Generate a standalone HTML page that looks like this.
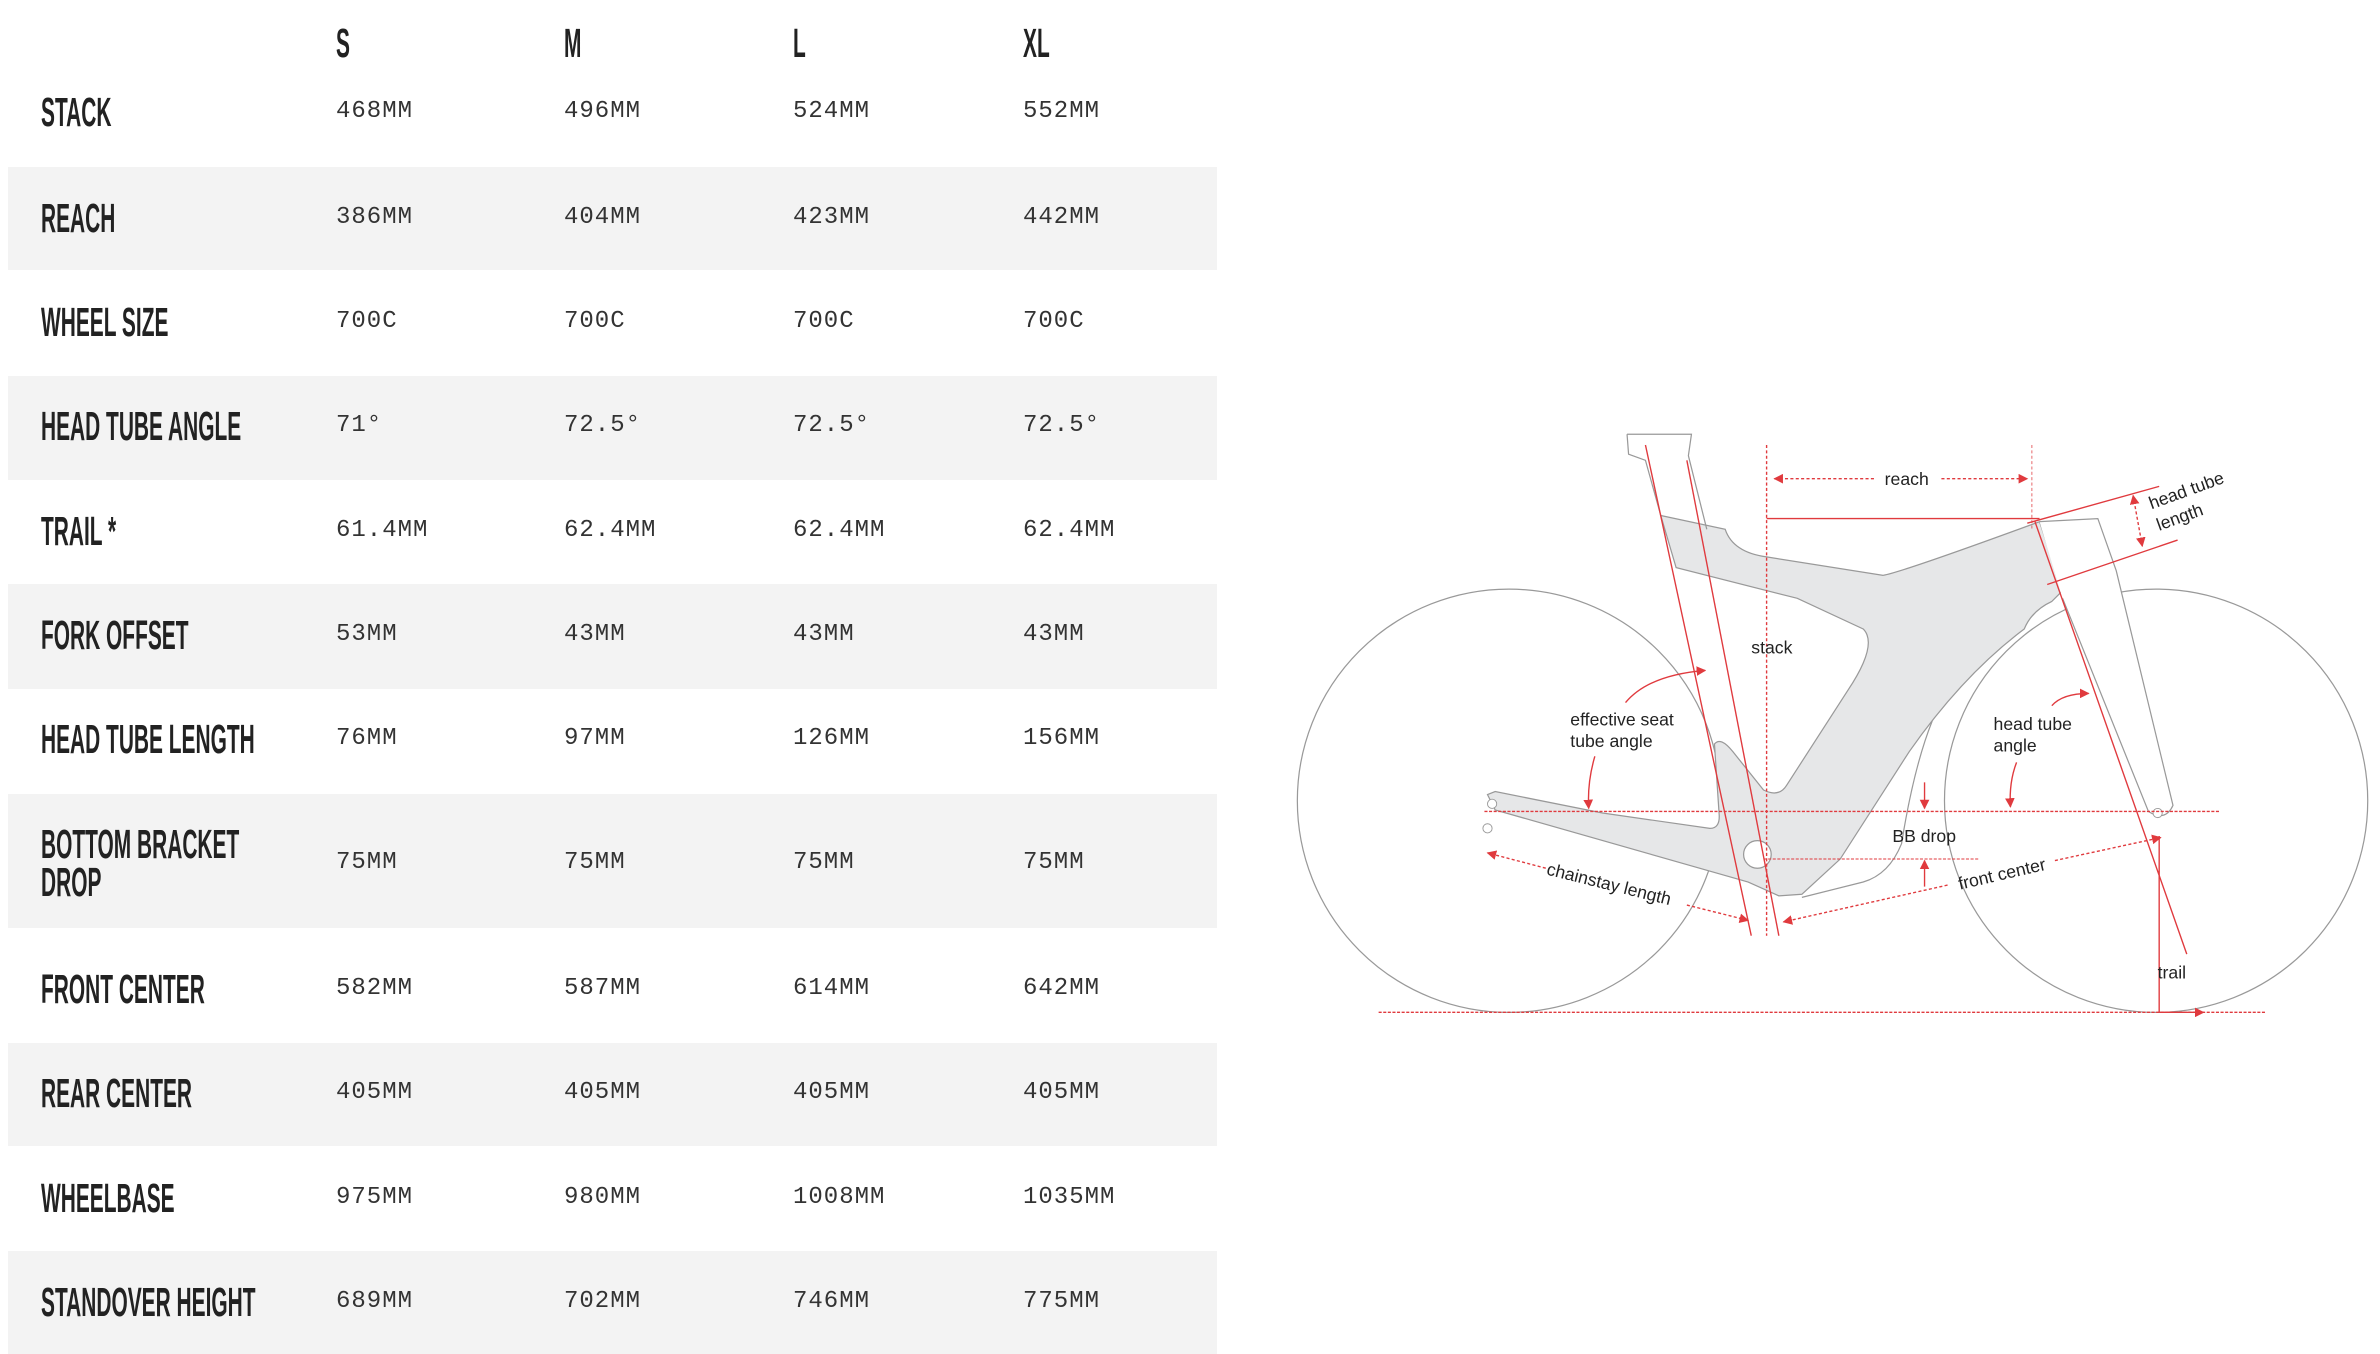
<!DOCTYPE html>
<html><head><meta charset="utf-8"><style>
body{margin:0;width:2380px;height:1350px;background:#fff;position:relative;overflow:hidden;font-family:"Liberation Sans",sans-serif}
.g{position:absolute;left:8px;width:1209px;background:#f3f3f3}
.l{position:absolute;left:41px;font-family:"Liberation Sans Narrow","Liberation Sans",sans-serif;font-weight:bold;font-size:41px;line-height:38px;color:#222;transform:scaleX(0.51);transform-origin:left center;white-space:nowrap}
.v{position:absolute;font-family:"Liberation Mono",monospace;font-size:24px;letter-spacing:1px;line-height:30px;color:#333;white-space:nowrap}
.h{position:absolute;font-family:"Liberation Sans Narrow","Liberation Sans",sans-serif;font-weight:bold;font-size:41px;line-height:40px;color:#222;transform:scaleX(0.51);transform-origin:left center}
svg{position:absolute;left:0;top:0}
</style></head><body>
<div class="g" style="top:167px;height:103px"></div>
<div class="g" style="top:376px;height:104px"></div>
<div class="g" style="top:584px;height:105px"></div>
<div class="g" style="top:794px;height:134px"></div>
<div class="g" style="top:1043px;height:103px"></div>
<div class="g" style="top:1251px;height:103px"></div>

<div class="h" style="left:336px;top:23px">S</div>
<div class="h" style="left:564px;top:23px">M</div>
<div class="h" style="left:793px;top:23px">L</div>
<div class="h" style="left:1023px;top:23px">XL</div>

<div class="l" style="top:93px">STACK</div>
<div class="v" style="left:336px;top:97px">468MM</div><div class="v" style="left:564px;top:97px">496MM</div><div class="v" style="left:793px;top:97px">524MM</div><div class="v" style="left:1023px;top:97px">552MM</div>

<div class="l" style="top:199px">REACH</div>
<div class="v" style="left:336px;top:203px">386MM</div><div class="v" style="left:564px;top:203px">404MM</div><div class="v" style="left:793px;top:203px">423MM</div><div class="v" style="left:1023px;top:203px">442MM</div>

<div class="l" style="top:303px">WHEEL SIZE</div>
<div class="v" style="left:336px;top:307px">700C</div><div class="v" style="left:564px;top:307px">700C</div><div class="v" style="left:793px;top:307px">700C</div><div class="v" style="left:1023px;top:307px">700C</div>

<div class="l" style="top:407px">HEAD TUBE ANGLE</div>
<div class="v" style="left:336px;top:411px">71°</div><div class="v" style="left:564px;top:411px">72.5°</div><div class="v" style="left:793px;top:411px">72.5°</div><div class="v" style="left:1023px;top:411px">72.5°</div>

<div class="l" style="top:512px">TRAIL *</div>
<div class="v" style="left:336px;top:516px">61.4MM</div><div class="v" style="left:564px;top:516px">62.4MM</div><div class="v" style="left:793px;top:516px">62.4MM</div><div class="v" style="left:1023px;top:516px">62.4MM</div>

<div class="l" style="top:616px">FORK OFFSET</div>
<div class="v" style="left:336px;top:620px">53MM</div><div class="v" style="left:564px;top:620px">43MM</div><div class="v" style="left:793px;top:620px">43MM</div><div class="v" style="left:1023px;top:620px">43MM</div>

<div class="l" style="top:720px">HEAD TUBE LENGTH</div>
<div class="v" style="left:336px;top:724px">76MM</div><div class="v" style="left:564px;top:724px">97MM</div><div class="v" style="left:793px;top:724px">126MM</div><div class="v" style="left:1023px;top:724px">156MM</div>

<div class="l" style="top:825px">BOTTOM BRACKET</div>
<div class="l" style="top:863px">DROP</div>
<div class="v" style="left:336px;top:848px">75MM</div><div class="v" style="left:564px;top:848px">75MM</div><div class="v" style="left:793px;top:848px">75MM</div><div class="v" style="left:1023px;top:848px">75MM</div>

<div class="l" style="top:970px">FRONT CENTER</div>
<div class="v" style="left:336px;top:974px">582MM</div><div class="v" style="left:564px;top:974px">587MM</div><div class="v" style="left:793px;top:974px">614MM</div><div class="v" style="left:1023px;top:974px">642MM</div>

<div class="l" style="top:1074px">REAR CENTER</div>
<div class="v" style="left:336px;top:1078px">405MM</div><div class="v" style="left:564px;top:1078px">405MM</div><div class="v" style="left:793px;top:1078px">405MM</div><div class="v" style="left:1023px;top:1078px">405MM</div>

<div class="l" style="top:1179px">WHEELBASE</div>
<div class="v" style="left:336px;top:1183px">975MM</div><div class="v" style="left:564px;top:1183px">980MM</div><div class="v" style="left:793px;top:1183px">1008MM</div><div class="v" style="left:1023px;top:1183px">1035MM</div>

<div class="l" style="top:1283px">STANDOVER HEIGHT</div>
<div class="v" style="left:336px;top:1287px">689MM</div><div class="v" style="left:564px;top:1287px">702MM</div><div class="v" style="left:793px;top:1287px">746MM</div><div class="v" style="left:1023px;top:1287px">775MM</div>

<svg width="2380" height="1350" viewBox="0 0 1552 880" xmlns="http://www.w3.org/2000/svg">
<defs>
<marker id="a" viewBox="0 0 10 10" refX="9" refY="5" markerWidth="7" markerHeight="7" orient="auto-start-reverse"><path d="M0,0L10,5L0,10z" fill="#e03a3e"/></marker>
</defs>
<g fill="none" stroke="#999" stroke-width="0.8">
<circle cx="984" cy="522" r="138"/>
<circle cx="1406" cy="522" r="138"/>
</g>
<path d="M1083,336 L1125,345 Q1130,360 1152,363 L1228,375 Q1240,373 1330,340 L1345,385 L1338,392 Q1325,398 1320,410 Q1280,440 1245,490 L1200,560 L1175,583 L1160,584 L1140,575 L975,528 L970,518 L975,516 L1045,530 L1115,540 Q1122,540 1121,530 L1118,485 Q1122,480 1130,490 L1150,515 Q1160,520 1165,512 L1205,450 Q1225,420 1215,410 L1172,390 L1093,370 Z" fill="#e6e7e8" stroke="#999" stroke-width="0.8"/>
<path d="M1061,283 L1103,283 L1101,297 L1113,345 M1061,283 L1062,296 L1073,300 L1083,336" fill="none" stroke="#999" stroke-width="0.8"/>
<path d="M1330,340 L1368,338 L1380,372 L1417,525 Q1412,536 1401,529 L1345,390" fill="#fff" stroke="#999" stroke-width="0.8"/>
<path d="M1260,470 Q1248,500 1240,550 Q1232,570 1215,575 L1175,585" fill="none" stroke="#999" stroke-width="0.8"/>
<circle cx="1146" cy="557" r="9" fill="#fff" stroke="#999" stroke-width="0.8"/>
<circle cx="973" cy="524" r="3" fill="#fff" stroke="#999" stroke-width="0.6"/>
<circle cx="970" cy="540" r="3" fill="#fff" stroke="#999" stroke-width="0.6"/>
<circle cx="1407" cy="530" r="3" fill="#fff" stroke="#999" stroke-width="0.6"/>
<g stroke="#e03a3e" fill="none" stroke-width="0.9">
<line x1="1073" y1="290" x2="1142" y2="610"/>
<line x1="1100" y1="300" x2="1160" y2="610"/>
<line x1="1152" y1="290" x2="1152" y2="610" stroke-dasharray="2,1.5"/>
<line x1="1325" y1="290" x2="1325" y2="345" stroke-dasharray="2,1.5" stroke-width="0.5"/>
<line x1="1152" y1="338" x2="1330" y2="338"/>
<line x1="1327" y1="340" x2="1426" y2="622"/>
<line x1="1322" y1="341" x2="1408" y2="317"/>
<line x1="1335" y1="381" x2="1420" y2="352"/>
<line x1="899" y1="660" x2="1478" y2="660" stroke-dasharray="2,1"/>
<line x1="968" y1="529" x2="1447" y2="529" stroke-dasharray="2,1"/>
<line x1="1150" y1="560" x2="1290" y2="560" stroke-dasharray="2,1" stroke-width="0.6"/>
<line x1="1408" y1="545" x2="1408" y2="660"/>
<line x1="1408" y1="660" x2="1437" y2="660" marker-end="url(#a)"/>
<line x1="1157" y1="312" x2="1222" y2="312" stroke-dasharray="2,1.5" marker-start="url(#a)"/>
<line x1="1266" y1="312" x2="1322" y2="312" stroke-dasharray="2,1.5" marker-end="url(#a)"/>
<line x1="1391" y1="323" x2="1397" y2="356" stroke-dasharray="2,1.5" marker-start="url(#a)" marker-end="url(#a)"/>
<path d="M1060,458 Q1075,440 1112,437" marker-end="url(#a)"/>
<path d="M1040,493 Q1035,510 1036,527" marker-end="url(#a)"/>
<path d="M1338,460 Q1345,452 1362,452" marker-end="url(#a)"/>
<path d="M1315,497 Q1310,510 1311,526" marker-end="url(#a)"/>
<line x1="1255" y1="510" x2="1255" y2="527" marker-end="url(#a)"/>
<line x1="1255" y1="578" x2="1255" y2="561" marker-end="url(#a)"/>
<line x1="1008" y1="566" x2="970" y2="556" stroke-dasharray="2,1.5" marker-end="url(#a)"/>
<line x1="1100" y1="590" x2="1140" y2="600" stroke-dasharray="2,1.5" marker-end="url(#a)"/>
<line x1="1270" y1="577" x2="1163" y2="601" stroke-dasharray="2,1.5" marker-end="url(#a)"/>
<line x1="1340" y1="561" x2="1409" y2="546" stroke-dasharray="2,1.5" marker-end="url(#a)"/>
</g>
<g font-family="Liberation Sans,sans-serif" font-size="11.5" fill="#222">
<text x="1229" y="316">reach</text>
<text x="1142" y="426">stack</text>
<text x="1024" y="473">effective seat</text>
<text x="1024" y="487">tube angle</text>
<text x="1300" y="476">head tube</text>
<text x="1300" y="490">angle</text>
<text x="1234" y="549">BB drop</text>
<text x="1407" y="638">trail</text>
<text transform="translate(1008,570) rotate(14)">chainstay length</text>
<text transform="translate(1278,580) rotate(-13)">front center</text>
<text transform="translate(1403,332) rotate(-20)">head tube</text>
<text transform="translate(1408,346) rotate(-20)">length</text>
</g>
</svg>
</body></html>
